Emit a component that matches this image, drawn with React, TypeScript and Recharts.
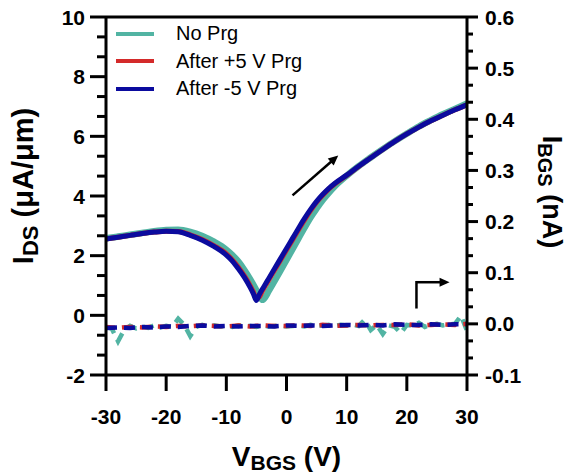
import React from 'react';
import { LineChart, Line, XAxis, YAxis, ReferenceLine, Legend, Label } from 'recharts';

const FONT = '"Liberation Sans", Arial, Helvetica, sans-serif';

// Series names / colours
const seriesNames = ['No Prg', 'After +5 V Prg', 'After -5 V Prg'];
const seriesColors = ['#52B4A3', '#D42A2A', '#0B0B9E'];

// Drain current I_DS (µA/µm) vs back-gate voltage
const idsVgs = [-30, -28, -26, -24, -22, -20, -18, -16, -14, -12, -10, -9, -8, -7, -6, -5.5, -5, -4.5, -4, -3.5, -3,
  -2, -1, 0, 1, 2, 3, 4, 5, 6, 7, 8, 10, 12, 14, 16, 18, 20, 22, 24, 26, 28, 30];
const idsNoPrg = [2.58, 2.64, 2.70, 2.76, 2.82, 2.86, 2.87, 2.80, 2.66, 2.46, 2.20, 2.02, 1.80, 1.52, 1.20, 1.02, 0.84, 0.66, 0.52, 0.62, 0.80,
  1.15, 1.50, 1.86, 2.22, 2.58, 2.94, 3.28, 3.58, 3.86, 4.10, 4.32, 4.68, 5.00, 5.29, 5.57, 5.84, 6.09, 6.33, 6.54, 6.74, 6.92, 7.10];
const idsPlus5 = [2.56, 2.62, 2.68, 2.74, 2.79, 2.82, 2.81, 2.70, 2.54, 2.33, 2.06, 1.86, 1.61, 1.32, 0.98, 0.78, 0.55, 0.62, 0.82, 1.00, 1.17,
  1.51, 1.85, 2.19, 2.53, 2.87, 3.20, 3.51, 3.79, 4.02, 4.23, 4.40, 4.69, 4.99, 5.28, 5.56, 5.83, 6.08, 6.31, 6.52, 6.71, 6.89, 7.06];
const idsMinus5 = [2.56, 2.62, 2.68, 2.74, 2.79, 2.82, 2.80, 2.68, 2.52, 2.30, 2.02, 1.82, 1.56, 1.27, 0.92, 0.72, 0.50, 0.70, 0.88, 1.05, 1.22,
  1.56, 1.90, 2.24, 2.58, 2.92, 3.25, 3.55, 3.82, 4.05, 4.25, 4.42, 4.70, 5.00, 5.28, 5.56, 5.83, 6.08, 6.31, 6.52, 6.71, 6.89, 7.06];

// Back-gate leakage I_BGS (nA)
const ibgsVgsFine = [-30, -29, -28, -27, -26, -25, -24, -23, -22, -21, -20, -19, -18, -17, -16, -15, -14, -13, -12, -11,
  -10, -9, -8, -7, -6, -5, -4, -3, -2, -1, 0, 1, 2, 3, 4, 5, 6, 7, 8, 9, 10, 11, 12, 13, 14, 15, 16, 17, 18, 19, 20,
  21, 22, 23, 24, 25, 26, 27, 28, 29, 30];
const ibgsNoPrg = [-0.006, -0.010, -0.034, -0.012, -0.004, -0.009, -0.005, -0.008, -0.003, -0.007, -0.004, -0.006, 0.010, -0.002, -0.024,
  -0.006, -0.002, -0.005, -0.003, -0.005, -0.004, -0.006, -0.003, -0.005, -0.004, -0.006, -0.003, -0.005, -0.004, -0.003, -0.005,
  -0.004, -0.003, -0.005, -0.002, -0.004, -0.003, -0.002, -0.004, -0.002, -0.003, -0.001, -0.004, 0.008, -0.012, -0.002, -0.020,
  -0.003, -0.006, -0.018, -0.002, -0.004, 0.002, -0.006, -0.002, 0.000, -0.003, -0.001, 0.000, 0.016, -0.014];
const ibgsVgs = [-30, -28, -26, -24, -22, -20, -18, -16, -14, -12, -10, -8, -6, -4, -2, 0, 2, 4, 6, 8, 10, 12, 14, 16, 18, 20,
  22, 24, 26, 28, 30];
const ibgsPlus5 = [-0.006, -0.008, -0.006, -0.007, -0.005, -0.006, -0.004, -0.005, -0.003, -0.004, -0.005, -0.003, -0.005, -0.003,
  -0.004, -0.004, -0.003, -0.004, -0.002, -0.004, -0.003, -0.002, -0.003, -0.002, -0.002, -0.001, -0.003, -0.002, -0.001, -0.002, 0.000];
const ibgsMinus5 = [-0.008, -0.007, -0.008, -0.006, -0.007, -0.005, -0.006, -0.004, -0.003, -0.005, -0.004, -0.005, -0.004, -0.004,
  -0.005, -0.003, -0.004, -0.003, -0.004, -0.003, -0.002, -0.003, -0.002, -0.003, -0.001, -0.002, -0.002, -0.001, -0.002, -0.001, -0.001];

// Axis ticks
const xTicks = [-30, -20, -10, 0, 10, 20, 30];
const leftMajor = [-2, 0, 2, 4, 6, 8, 10];
const rightMajor = [-0.1, 0, 0.1, 0.2, 0.3, 0.4, 0.5, 0.6];

// Sweep-direction arrows (V, µA/µm)
const sweepArrow = [{ x: 1.0, y: 4.02 }, { x: 8.6, y: 5.36 }];
const gateArrow = [{ x: 21.6, y: 0.27 }, { x: 21.6, y: 1.11 }, { x: 27.1, y: 1.11 }];

const pairs = (xs: number[], ys: number[]) => xs.map((x, i) => ({ x, y: ys[i] }));

// two minor ticks between majors
const withMinor = (majors: number[]) => {
  const out: number[] = [];
  for (let i = 0; i < majors.length; i++) {
    out.push(majors[i]);
    if (i < majors.length - 1) {
      const step = (majors[i + 1] - majors[i]) / 3;
      out.push(majors[i] + step, majors[i] + 2 * step);
    }
  }
  return out;
};

const isMajor = (v: number, majors: number[]) => majors.some(m => Math.abs(m - v) < 1e-6);

const LeftTick = (props: any) => {
  const { x, y, payload } = props;
  const major = isMajor(payload.value, leftMajor);
  return (
    <g>
      <line x1={x - (major ? 16 : 9)} x2={x} y1={y} y2={y} stroke="#000" strokeWidth={3} />
      {major && (
        <text x={x - 21} y={y} dy="0.36em" textAnchor="end" fontFamily={FONT} fontWeight="bold" fontSize={21} fill="#000">
          {Math.round(payload.value)}
        </text>
      )}
    </g>
  );
};

const RightTick = (props: any) => {
  const { x, y, payload } = props;
  const major = isMajor(payload.value, rightMajor);
  return (
    <g>
      <line x1={x} x2={x + (major ? 11 : 6)} y1={y} y2={y} stroke="#000" strokeWidth={3} />
      {major && (
        <text x={x + 18} y={y} dy="0.36em" textAnchor="start" fontFamily={FONT} fontWeight="bold" fontSize={21} fill="#000">
          {(Math.round(payload.value * 10) / 10).toFixed(1)}
        </text>
      )}
    </g>
  );
};

// line segment with an arrow head at its end
const arrowHead = (x1: number, y1: number, x2: number, y2: number) => {
  const a = Math.atan2(y2 - y1, x2 - x1);
  const len = 10;
  const w = 4.5;
  const bx = x2 - len * Math.cos(a);
  const by = y2 - len * Math.sin(a);
  const px = -Math.sin(a) * w;
  const py = Math.cos(a) * w;
  return `${x2},${y2} ${bx + px},${by + py} ${bx - px},${by - py}`;
};

const ArrowShape = (props: any) => {
  const { x1, y1, x2, y2 } = props;
  if ([x1, y1, x2, y2].some(v => v == null || isNaN(v))) return null;
  const a = Math.atan2(y2 - y1, x2 - x1);
  return (
    <g>
      <line x1={x1} y1={y1} x2={x2 - 8 * Math.cos(a)} y2={y2 - 8 * Math.sin(a)} stroke="#000" strokeWidth={2.5} />
      <polygon points={arrowHead(x1, y1, x2, y2)} fill="#000" />
    </g>
  );
};

const PlainShape = (props: any) => {
  const { x1, y1, x2, y2 } = props;
  if ([x1, y1, x2, y2].some(v => v == null || isNaN(v))) return null;
  return <line x1={x1} y1={y1} x2={x2} y2={y2} stroke="#000" strokeWidth={2.5} strokeLinecap="square" />;
};

const LegendBox = () => (
  <div style={{ fontFamily: FONT, fontSize: 20, color: '#000' }}>
    {seriesNames.map((name, i) => (
      <div key={name} style={{ display: 'flex', alignItems: 'center', height: 27.5 }}>
        <span style={{ display: 'inline-block', width: 38, height: 4, background: seriesColors[i] }} />
        <span style={{ marginLeft: 22 }}>{name}</span>
      </div>
    ))}
  </div>
);

const XTitle = (props: any) => {
  const { viewBox } = props;
  const cx = viewBox.x + viewBox.width / 2;
  return (
    <text x={cx} y={466} textAnchor="middle" fontFamily={FONT} fontWeight="bold" fontSize={28} fill="#000">
      V<tspan fontSize={21} dy={4}>BGS</tspan><tspan dy={-4}> (V)</tspan>
    </text>
  );
};

const LeftTitle = (props: any) => {
  const { viewBox } = props;
  const cy = viewBox.y + viewBox.height / 2 - 10;
  return (
    <text x={0} y={0} transform={`translate(33, ${cy}) rotate(-90)`} textAnchor="middle" fontFamily={FONT} fontWeight="bold" fontSize={29} fill="#000">
      I<tspan fontSize={22} dy={5}>DS</tspan><tspan dy={-5}> (μA/μm)</tspan>
    </text>
  );
};

const RightTitle = (props: any) => {
  const { viewBox } = props;
  const cy = viewBox.y + viewBox.height / 2 - 4;
  return (
    <text x={0} y={0} transform={`translate(543, ${cy}) rotate(90)`} textAnchor="middle" fontFamily={FONT} fontWeight="bold" fontSize={27} fill="#000">
      I<tspan fontSize={20} dy={5}>BGS</tspan><tspan dy={-5}> (nA)</tspan>
    </text>
  );
};

export default function App() {
  const idsSeries = [idsNoPrg, idsPlus5, idsMinus5];
  const ibgsSeries = [pairs(ibgsVgsFine, ibgsNoPrg), pairs(ibgsVgs, ibgsPlus5), pairs(ibgsVgs, ibgsMinus5)];
  const idsWidths = [6.5, 5, 5];

  return (
    <div style={{ position: 'absolute', left: 0, top: 0, background: '#fff' }}>
      <LineChart width={574} height={475} margin={{ top: 17, right: 0, bottom: 0, left: 0 }}>
        <XAxis
          type="number"
          dataKey="x"
          domain={[-30, 30]}
          ticks={xTicks}
          interval={0}
          allowDataOverflow
          height={100}
          tickSize={16}
          tickMargin={18}
          axisLine={{ stroke: '#000', strokeWidth: 3 }}
          tickLine={{ stroke: '#000', strokeWidth: 3 }}
          tick={{ fill: '#000', fontSize: 21, fontWeight: 'bold', fontFamily: FONT }}
        >
          <Label content={<XTitle />} />
        </XAxis>
        <YAxis
          yAxisId="left"
          type="number"
          domain={[-2, 10]}
          ticks={withMinor(leftMajor)}
          interval={0}
          allowDataOverflow
          width={106}
          tickSize={0}
          tickMargin={0}
          tickLine={false}
          axisLine={{ stroke: '#000', strokeWidth: 3 }}
          tick={<LeftTick />}
        >
          <Label content={<LeftTitle />} />
        </YAxis>
        <YAxis
          yAxisId="right"
          orientation="right"
          type="number"
          domain={[-0.1, 0.6]}
          ticks={withMinor(rightMajor)}
          interval={0}
          allowDataOverflow
          width={107}
          tickSize={0}
          tickMargin={0}
          tickLine={false}
          axisLine={{ stroke: '#000', strokeWidth: 3 }}
          tick={<RightTick />}
        >
          <Label content={<RightTitle />} />
        </YAxis>

        {/* frame top */}
        <ReferenceLine yAxisId="left" y={10} stroke="#000" strokeWidth={3} />

        {ibgsSeries.map((d, i) => (
          <Line
            key={`ibgs-${i}`}
            yAxisId="right"
            data={d}
            dataKey="y"
            type="linear"
            stroke={seriesColors[i]}
            strokeWidth={4.5}
            strokeDasharray="11 7"
            strokeDashoffset={i === 1 ? 2 : 0}
            dot={false}
            legendType="none"
            isAnimationActive={false}
          />
        ))}

        {idsSeries.map((ys, i) => (
          <Line
            key={`ids-${i}`}
            yAxisId="left"
            data={pairs(idsVgs, ys)}
            dataKey="y"
            name={seriesNames[i]}
            type="monotone"
            stroke={seriesColors[i]}
            strokeWidth={idsWidths[i]}
            dot={false}
            isAnimationActive={false}
          />
        ))}

        <ReferenceLine
          yAxisId="left"
          segment={sweepArrow}
          shape={<ArrowShape />}
        />
        <ReferenceLine
          yAxisId="left"
          segment={[gateArrow[0], gateArrow[1]]}
          shape={<PlainShape />}
        />
        <ReferenceLine
          yAxisId="left"
          segment={[gateArrow[1], gateArrow[2]]}
          shape={<ArrowShape />}
        />

        <Legend
          layout="vertical"
          align="center"
          verticalAlign="middle"
          content={<LegendBox />}
          wrapperStyle={{ position: 'absolute', left: 116, top: 20, width: 'auto' }}
        />
      </LineChart>
    </div>
  );
}
